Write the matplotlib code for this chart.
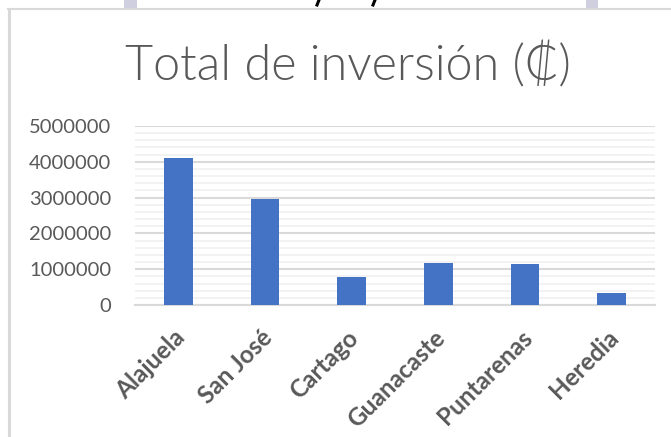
import matplotlib
matplotlib.use("Agg")
import matplotlib.pyplot as plt
from matplotlib.ticker import MultipleLocator
from matplotlib.patches import Rectangle
from matplotlib.lines import Line2D
from matplotlib.transforms import ScaledTranslation

categories = ["Alajuela", "San José", "Cartago", "Guanacaste", "Puntarenas", "Heredia"]
values = [4100000, 2970000, 790000, 1180000, 1145000, 330000]
yticks = [0, 1000000, 2000000, 3000000, 4000000, 5000000]
title = "Total de inversión (₡)"

W, H = 671, 437
fig = plt.figure(figsize=(W / 100, H / 100), dpi=100)
fig.patch.set_facecolor("white")

# chart frame decorations
fig.add_artist(Line2D([8.5 / W, 8.5 / W], [0, 1 - 9 / H], transform=fig.transFigure,
                      color="#d9d9d9", lw=2.2))
fig.add_artist(Line2D([7.5 / W, 1], [1 - 8.5 / H, 1 - 8.5 / H], transform=fig.transFigure,
                      color="#d9d9d9", lw=1.5))
for x0, x1 in [(124, 137), (586, 598)]:
    fig.add_artist(Rectangle((x0 / W, 1 - 8 / H), (x1 - x0) / W, 8 / H,
                             transform=fig.transFigure, color="#cfcfe0", lw=0))
# cut-off strokes of the page above
for xp in [318, 374]:
    fig.add_artist(Line2D([(xp + 1) / W, (xp - 1) / W], [1, 1 - 5 / H],
                          transform=fig.transFigure, color="black", lw=2.2))

ax = fig.add_axes([135 / W, 1 - 305 / H, 520 / W, 179 / H])
x = range(len(categories))
ax.bar(x, values, width=0.33, color="#4472C4", zorder=3)
ax.set_xlim(-0.5, len(categories) - 0.5)
ax.set_ylim(0, 5000000)
ax.set_yticks(yticks)
ax.set_yticklabels([str(v) for v in yticks])
ax.yaxis.set_minor_locator(MultipleLocator(200000))
ax.grid(axis="y", which="major", color="#d9d9d9", lw=1.5, zorder=0)
ax.grid(axis="y", which="minor", color="#f0f0f0", lw=1.2, zorder=0)
for s in ["top", "right", "left"]:
    ax.spines[s].set_visible(False)
ax.spines["bottom"].set_color("#d9d9d9")
ax.spines["bottom"].set_linewidth(1.5)
ax.tick_params(axis="both", which="both", length=0)
ax.tick_params(axis="y", pad=17)

fam = ["Lato", "DejaVu Sans"]
for lab in ax.get_yticklabels():
    lab.set_fontfamily(fam)
    lab.set_fontsize(14.5)
    lab.set_color("#595959")

ax.set_xticks(list(x))
ax.set_xticklabels(categories, rotation=45, ha="right", rotation_mode="anchor",
                   fontsize=17.5, fontweight="bold", color="#595959", family=fam)
ax.tick_params(axis="x", pad=15)
off = ScaledTranslation(-5 / 100, 0, fig.dpi_scale_trans)
for lab in ax.get_xticklabels():
    lab.set_transform(lab.get_transform() + off)

fig.text(0.5 + 12 / W, 1 - 66 / H, title, ha="center", va="center", fontsize=35,
         color="#595959", family=fam, fontweight=300)

fig.savefig("out.png", dpi=100, facecolor="white")
